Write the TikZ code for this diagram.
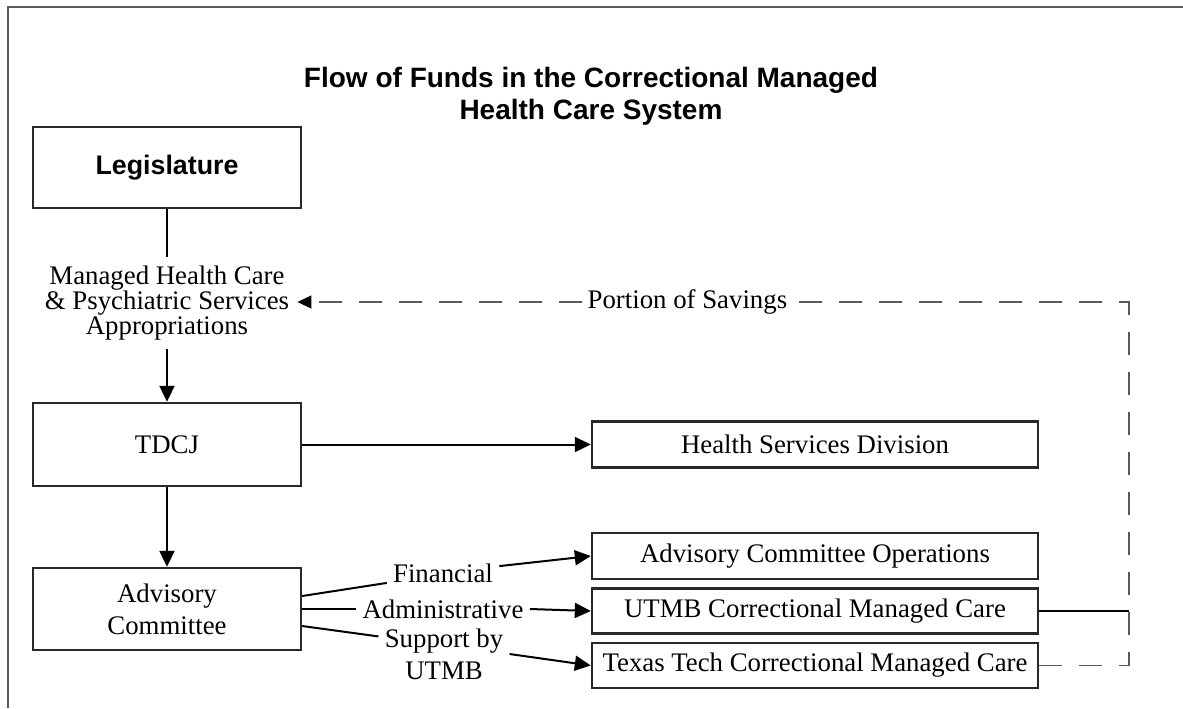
\documentclass[tikz,border=0pt]{standalone}
\usepackage{fontspec}
\setmainfont{Liberation Serif}
\newfontfamily\headfont{Liberation Sans}
\usetikzlibrary{arrows.meta,positioning}
\definecolor{boxgray}{RGB}{40,40,40}
\definecolor{rulegray}{RGB}{90,90,90}

\begin{document}
\begin{tikzpicture}[x=0.5pt,y=-0.5pt,
  every node/.style={font=\fontsize{13.4}{16}\selectfont},
  fundbox/.style={draw=boxgray,line width=1.2pt,minimum width=134pt,inner sep=0pt},
  unitbox/.style={draw=boxgray,line width=1.2pt,minimum width=223pt,minimum height=23pt,inner sep=0pt},
  flow/.style={line width=1pt,-{Triangle[length=8pt,width=7.5pt]}},
  link/.style={line width=1pt},
  tie/.style={line width=0.6pt},
  savings/.style={rulegray,line width=0.6pt,dash pattern=on 11.5pt off 8.5pt,-{Triangle[length=7pt,width=6.5pt,color=black]}},
  flowlbl/.style={inner sep=3pt}]
\useasboundingbox (0,0) rectangle (1183,708);
% page frame
\draw[rulegray,line width=0.8pt] (8,708) -- (8,7) -- (1183,7);
% title
\node[font=\headfont\bfseries\fontsize{14}{16}\selectfont,align=center] (title) at (591,96) {Flow of Funds in the Correctional Managed\\Health Care System};
% left column
\node[fundbox,minimum height=40.5pt,font=\headfont\bfseries\fontsize{13.4}{16}\selectfont] (leg) at (167,167.5) {Legislature};
\node[align=center,inner sep=4pt,font=\fontsize{13.4}{12.5}\selectfont] (mhc) at (167,303) {Managed Health Care\\\& Psychiatric Services\\Appropriations};
\node[fundbox,minimum height=41.5pt] (tdcj) at (167,444.5) {TDCJ};
\node[fundbox,minimum height=41pt,align=center] (adv) at (167,609) {Advisory\\Committee};
% right column
\node[unitbox] (hsd) at (815,444.5) {Health Services Division};
\node[unitbox] (aco) at (815,556) {Advisory Committee Operations};
\node[unitbox,minimum height=22.5pt] (utmb) at (815,611) {UTMB Correctional Managed Care};
\node[unitbox,minimum height=22.5pt] (tt) at (815,665.5) {Texas Tech Correctional Managed Care};
% labels between
\node[flowlbl] (fin) at (443,573) {Financial};
\node[flowlbl] (adm) at (443,609) {Administrative};
\node[flowlbl,align=center] (sup) at (444,654) {Support by\\UTMB};
\coordinate (rc) at (1129,302);

\draw[link] (leg) -- (mhc);
\draw[flow] (mhc) -- (tdcj);
\draw[flow] (tdcj) -- (hsd);
\draw[flow] (tdcj) -- (adv);
\draw[link] ([yshift=6.5pt]adv.east) -- (fin.190);
\draw[flow] (fin.7) -- (aco.west);
\draw[link] (adv.east) -- (adm.west);
\draw[flow] (adm.east) -- (utmb.west);
\draw[link] ([yshift=-8.5pt]adv.east) -- (sup.165);
\draw[flow] (sup.east) -- (tt.west);
% savings returned
\draw[tie] (utmb.east) -- (utmb.east -| rc);
\draw[savings] (tt.east) -| (rc) -- node[pos=0.531,fill=white,text=black,inner sep=1pt] (savlbl) {Portion of Savings} (mhc.east |- rc);
\end{tikzpicture}
\end{document}
